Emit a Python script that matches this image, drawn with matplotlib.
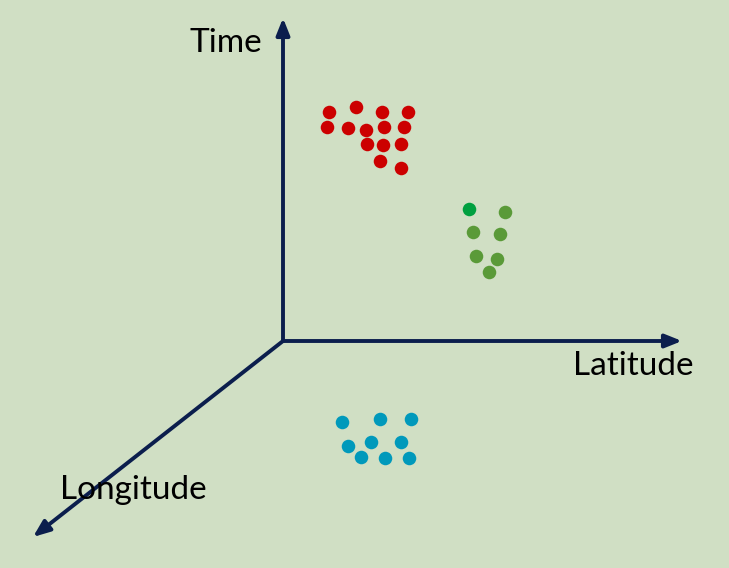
import matplotlib
matplotlib.use('Agg')
import matplotlib.pyplot as plt

# cluster positions (pixel coords, y downwards)
red_x = [329, 356, 382, 408, 327, 348, 366, 384, 404, 367, 383, 401, 380, 401]
red_y = [112, 107, 112, 112, 127, 128, 130, 127, 127, 144, 145, 144, 161, 168]

green_x = [505, 473, 500, 476, 497, 489]
green_y = [212, 232, 234, 256, 259, 272]
odd_green_x = [469]
odd_green_y = [209]

blue_x = [342, 380, 411, 348, 371, 401, 361, 385, 409]
blue_y = [422, 419, 419, 446, 442, 442, 457, 458, 458]

origin = (283, 341)
tips = {'Time': (283, 18), 'Latitude': (682, 341), 'Longitude': (33, 537)}
axis_col = '#0b1e4d'

fig = plt.figure(figsize=(7.29, 5.68), dpi=100)
fig.patch.set_facecolor('#d0dfc4')
ax = fig.add_axes([0, 0, 1, 1])
ax.set_facecolor('#d0dfc4')
ax.set_xlim(0, 729)
ax.set_ylim(568, 0)
ax.axis('off')

for name, tip in tips.items():
    ax.annotate('', xy=tip, xytext=origin,
                arrowprops=dict(arrowstyle='-|>,head_length=1.0,head_width=0.4',
                                color=axis_col, lw=2.8, shrinkA=0, shrinkB=0))

ax.text(190, 52, 'Time', fontsize=24, family='Lato', va='baseline')
ax.text(573, 375, 'Latitude', fontsize=24, family='Lato', va='baseline')
ax.text(60, 499, 'Longitude', fontsize=24, family='Lato', va='baseline')

ax.scatter(red_x, red_y, s=95, color='#cc0000', zorder=3, linewidths=0)
ax.scatter(green_x, green_y, s=95, color='#5a9a38', zorder=3, linewidths=0)
ax.scatter(odd_green_x, odd_green_y, s=95, color='#00a040', zorder=3, linewidths=0)
ax.scatter(blue_x, blue_y, s=95, color='#0099bb', zorder=3, linewidths=0)

plt.savefig('out.png', dpi=100, facecolor=fig.get_facecolor())
